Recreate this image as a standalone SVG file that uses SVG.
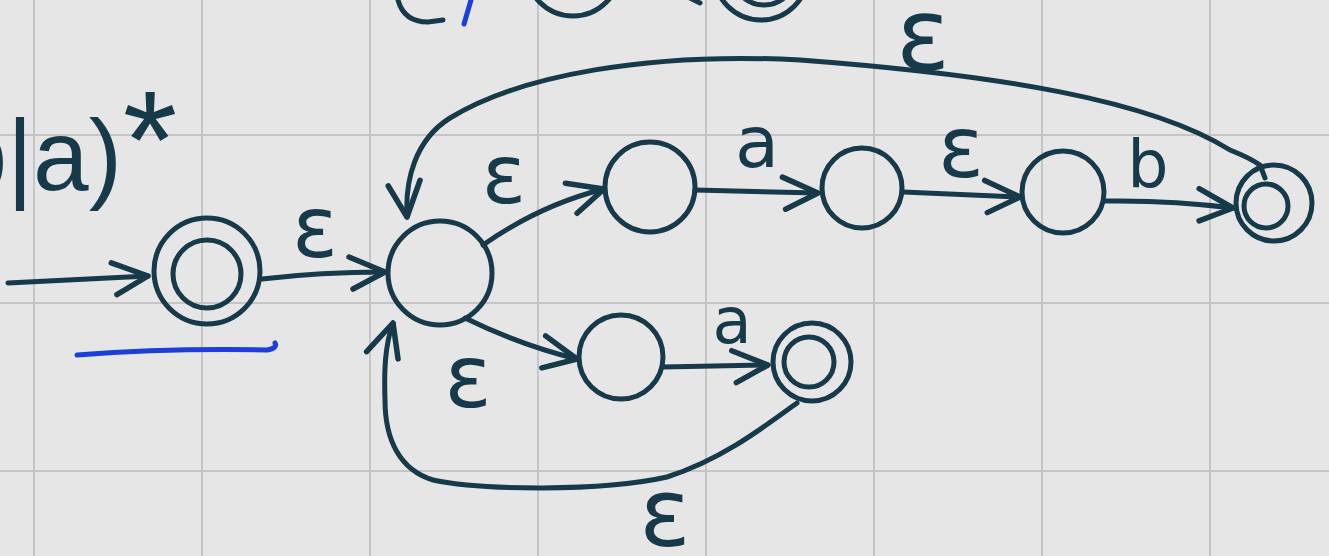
<svg xmlns="http://www.w3.org/2000/svg" width="1329" height="556" viewBox="0 0 1329 556">
<defs>
<style>
.ink{fill:none;stroke:#173a4b;stroke-width:5;stroke-linecap:round;stroke-linejoin:round}
.st{fill:none;stroke:#173a4b;stroke-width:5}
.grid{stroke:#c5c5c5;stroke-width:2}
.lbl{fill:#173a4b;font-family:"DejaVu Sans",sans-serif;text-anchor:middle}
.blue{fill:none;stroke:#1b3fd8;stroke-width:5;stroke-linecap:round}
</style>
<marker id="arr" markerUnits="userSpaceOnUse" markerWidth="60" markerHeight="60" viewBox="-40 -30 50 60" refX="0" refY="0" orient="auto">
<path d="M -36 -15 L 0 0 L -32 17" fill="none" stroke="#173a4b" stroke-width="5.5" stroke-linecap="round" stroke-linejoin="round"/>
</marker>
</defs>
<rect width="1329" height="556" fill="#e6e6e6"/>
<g id="grid">
<line class="grid" x1="34" y1="0" x2="34" y2="556"/>
<line class="grid" x1="202" y1="0" x2="202" y2="556"/>
<line class="grid" x1="370" y1="0" x2="370" y2="556"/>
<line class="grid" x1="538" y1="0" x2="538" y2="556"/>
<line class="grid" x1="706" y1="0" x2="706" y2="556"/>
<line class="grid" x1="874" y1="0" x2="874" y2="556"/>
<line class="grid" x1="1042" y1="0" x2="1042" y2="556"/>
<line class="grid" x1="1210" y1="0" x2="1210" y2="556"/>
<line class="grid" x1="0" y1="135" x2="1329" y2="135"/>
<line class="grid" x1="0" y1="303" x2="1329" y2="303"/>
<line class="grid" x1="0" y1="471" x2="1329" y2="471"/>
</g>
<g id="top-fragments">
<path class="ink" d="M 398 0 Q 404 22 428 22 L 443 20"/>
<path class="blue" d="M 471 0 L 464 24"/>
<circle class="st" cx="573" cy="-31" r="47"/>
<path class="ink" d="M 688 -3 L 700 3"/>
<circle class="st" cx="761" cy="-27" r="47"/>
<circle class="st" cx="764" cy="-27" r="32"/>
</g>
<g id="regex">
<text x="122" y="190" font-family="Liberation Sans, sans-serif" font-size="100" fill="#173a4b" text-anchor="end">b|a)</text>
<text x="150" y="188" font-family="Liberation Sans, sans-serif" font-size="140" fill="#173a4b" text-anchor="middle">*</text>
</g>
<path id="underline" class="blue" d="M 77 355 Q 170 348 267 350 Q 278 348 275 343"/>
<g id="connectors">
<path class="ink" d="M 8 283 L 148 276" marker-end="url(#arr)"/>
<path class="ink" d="M 262 279 Q 320 272 385 272" marker-end="url(#arr)"/>
<path class="ink" d="M 483 245 Q 540 205 604 189" marker-end="url(#arr)"/>
<path class="ink" d="M 695 190 L 818 193" marker-end="url(#arr)"/>
<path class="ink" d="M 903 192 L 1020 197" marker-end="url(#arr)"/>
<path class="ink" d="M 1105 201 Q 1170 200 1233 208" marker-end="url(#arr)"/>
<path class="ink" d="M 1265 178 L 1260 165 Q 1250 158 1230 150 C 1150 100 1000 75 800 60 C 650 52 520 75 450 118 C 415 140 405 180 407 217" marker-end="url(#arr)"/>
<path class="ink" d="M 465 318 Q 520 345 577 359" marker-end="url(#arr)"/>
<path class="ink" d="M 663 367 L 768 365" marker-end="url(#arr)"/>
<path class="ink" d="M 797 403 C 760 430 720 460 667 477 C 600 492 480 490 433 480 C 400 470 385 440 385 400 C 384 370 385 345 393 323" marker-end="url(#arr)"/>
</g>
<g id="labels">
<text class="lbl" x="315" y="257" font-size="85">ε</text>
<text class="lbl" x="504" y="203" font-size="82">ε</text>
<text class="lbl" x="757" y="167" font-size="72">a</text>
<text class="lbl" x="961" y="177" font-size="85">ε</text>
<text class="lbl" x="1148" y="187" font-size="65">b</text>
<text class="lbl" x="923" y="70" font-size="100">ε</text>
<text class="lbl" x="468" y="407" font-size="88">ε</text>
<text class="lbl" x="732" y="343" font-size="64">a</text>
<text class="lbl" x="665" y="546" font-size="95">ε</text>
</g>
<g id="node-start"><circle class="st" cx="207" cy="271" r="53"/><circle class="st" cx="207" cy="274" r="34"/></g>
<g id="node-center"><circle class="st" cx="440" cy="273" r="52"/></g>
<g id="node-t1"><circle class="st" cx="650" cy="187" r="45"/></g>
<g id="node-t2"><circle class="st" cx="862" cy="188" r="40"/></g>
<g id="node-t3"><circle class="st" cx="1063" cy="192" r="41"/></g>
<g id="node-t4"><circle class="st" cx="1274" cy="203" r="38"/><circle class="st" cx="1266" cy="206" r="22"/></g>
<g id="node-b1"><circle class="st" cx="621" cy="357" r="42"/></g>
<g id="node-b2"><circle class="st" cx="812" cy="362" r="39"/><circle class="st" cx="809" cy="362" r="25"/></g>
</svg>
